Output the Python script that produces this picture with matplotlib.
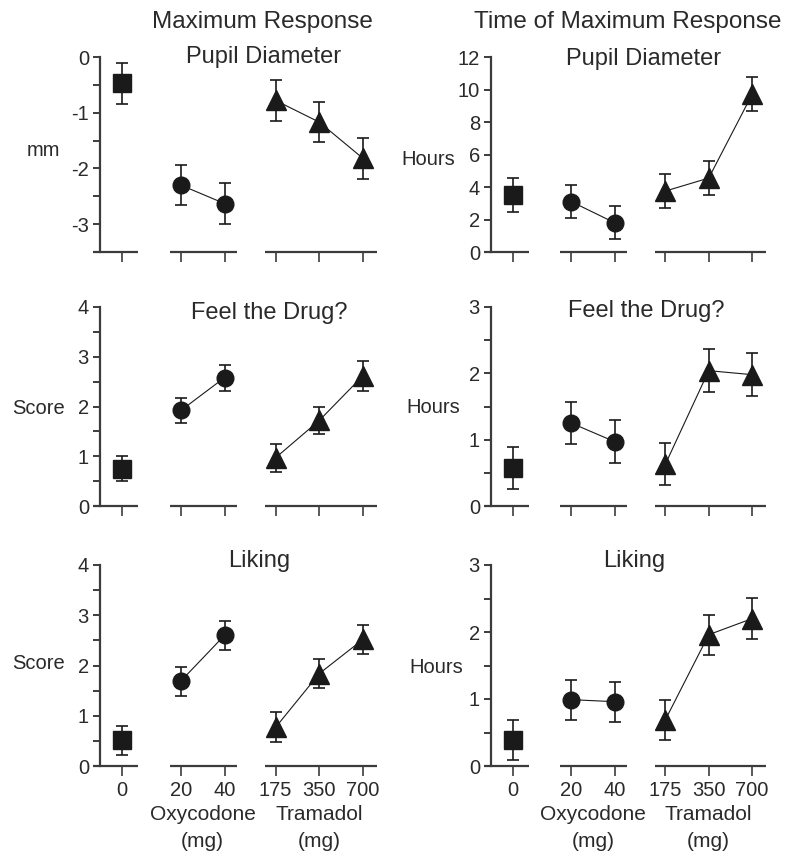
import numpy as np
import matplotlib
matplotlib.use('Agg')
import matplotlib.pyplot as plt
from matplotlib.ticker import MultipleLocator
import matplotlib.transforms as mtransforms

plt.rcParams['font.family'] = ['Liberation Sans', 'DejaVu Sans']
plt.rcParams['axes.unicode_minus'] = False

# dose groups: placebo, oxycodone, tramadol
doses = [['0'], ['20', '40'], ['175', '350', '700']]
group_names = ['', 'Oxycodone', 'Tramadol']
markers = ['s', 'o', '^']

col_titles = ['Maximum Response', 'Time of Maximum Response']
row_titles = ['Pupil Diameter', 'Feel the Drug?', 'Liking']
ylabels = [['mm', 'Hours'], ['Score', 'Hours'], ['Score', 'Hours']]

# means and SEM (placebo, oxy 20, oxy 40, tram 175, tram 350, tram 700)
pupil_max = [-0.47, -2.30, -2.63, -0.78, -1.17, -1.82]
pupil_max_se = [0.37, 0.36, 0.37, 0.36, 0.36, 0.37]
pupil_time = [3.5, 3.1, 1.8, 3.75, 4.55, 9.7]
pupil_time_se = [1.05, 1.02, 1.02, 1.07, 1.05, 1.05]
feel_max = [0.75, 1.92, 2.58, 0.97, 1.72, 2.62]
feel_max_se = [0.25, 0.26, 0.26, 0.28, 0.28, 0.30]
feel_time = [0.57, 1.25, 0.97, 0.63, 2.04, 1.98]
feel_time_se = [0.32, 0.32, 0.32, 0.32, 0.32, 0.32]
liking_max = [0.51, 1.69, 2.60, 0.77, 1.84, 2.52]
liking_max_se = [0.29, 0.29, 0.29, 0.30, 0.29, 0.29]
liking_time = [0.39, 0.99, 0.96, 0.69, 1.96, 2.20]
liking_time_se = [0.30, 0.30, 0.30, 0.30, 0.30, 0.31]

data = [[(pupil_max, pupil_max_se), (pupil_time, pupil_time_se)],
        [(feel_max, feel_max_se), (feel_time, feel_time_se)],
        [(liking_max, liking_max_se), (liking_time, liking_time_se)]]

ylims = [[(-3.5, 0), (0, 12)], [(0, 4), (0, 3)], [(0, 4), (0, 3)]]
ymajor = [[1, 2], [1, 1], [1, 1]]
yminor = [[0.5, None], [0.5, 0.5], [0.5, 0.5]]

# layout (pixels on an 800x864 canvas)
W, H = 800, 864
col_px = [(100, 277), (491, 275)]
row_px = [(57, 252), (307, 506), (565, 766)]
title_y = [[0.969, 0.959], [0.94, 0.95], [0.99, 0.99]]
title_x = [[0.59, 0.553], [0.61, 0.564], [0.575, 0.52]]
ylab_pos = [[(-0.144, 0.523), (-0.131, 0.474)],
            [(-0.126, 0.49), (-0.113, 0.497)],
            [(-0.126, 0.512), (-0.10, 0.49)]]

group_start = [0.0, 1.35, 3.52]
xs = [[s + i for i in range(len(d))] for s, d in zip(group_start, doses)]
seg_pad = [(0.65, 0.38), (0.25, 0.29), (0.24, 0.33)]

ink = '#1a1a1a'
axc = '#3c3c3c'
txt = '#2a2a2a'

fig = plt.figure(figsize=(W / 100, H / 100), dpi=100)

for r in range(3):
    for c in range(2):
        l, w = col_px[c]
        t, b = row_px[r]
        ax = fig.add_axes([l / W, 1 - b / H, w / W, (b - t) / H])
        vals, se = data[r][c]
        k = 0
        for g in range(3):
            n = len(xs[g])
            ax.errorbar(xs[g], vals[k:k + n], yerr=se[k:k + n], fmt='-',
                        marker=markers[g], ms=[13, 12, 14][g], color=ink,
                        lw=0.8, elinewidth=1.2, capsize=4.5, capthick=1.2,
                        clip_on=False, zorder=3)
            k += n
            # broken x axis segment
            ax.plot([xs[g][0] - seg_pad[g][0], xs[g][-1] + seg_pad[g][1]],
                    [ylims[r][c][0]] * 2, color=axc, lw=1.6, clip_on=False,
                    solid_capstyle='butt', zorder=2)
        ax.set_xlim(-0.5, 5.84)
        ax.set_ylim(*ylims[r][c])
        ax.yaxis.set_major_locator(MultipleLocator(ymajor[r][c]))
        if yminor[r][c]:
            ax.yaxis.set_minor_locator(MultipleLocator(yminor[r][c]))
        for s in ['top', 'right', 'bottom']:
            ax.spines[s].set_visible(False)
        ax.spines['left'].set_color(axc)
        ax.spines['left'].set_linewidth(1.6)
        ax.set_xticks([x for gx in xs for x in gx])
        if r == 2:
            ax.set_xticklabels([d for gd in doses for d in gd])
        else:
            ax.set_xticklabels([])
        ax.tick_params(axis='x', length=7.5, width=1.2, color=axc,
                       labelsize=14.5, labelcolor=txt, pad=3)
        ax.tick_params(axis='y', which='major', length=5, width=1.4, color=axc,
                       labelsize=14.5, labelcolor=txt, pad=3)
        ax.tick_params(axis='y', which='minor', length=5, width=1.4, color=axc)
        ax.patch.set_visible(False)

        ax.text(title_x[r][c], title_y[r][c], row_titles[r], transform=ax.transAxes,
                ha='center', va='baseline', fontsize=17, color=txt)
        px, py = ylab_pos[r][c]
        ax.text(px, py, ylabels[r][c], transform=ax.transAxes,
                ha='right', va='center', fontsize=14.5, color=txt)

        if r == 2:
            trans = mtransforms.blended_transform_factory(ax.transData, ax.transAxes)
            for g in (1, 2):
                xm = np.mean(xs[g])
                ax.text(xm, -(820 - b) / (b - t), group_names[g], transform=trans,
                        ha='center', va='baseline', fontsize=15, color=txt)
                ax.text(xm, -(847 - b) / (b - t), '(mg)', transform=trans,
                        ha='center', va='baseline', fontsize=15, color=txt)

fig.text(262 / W, 1 - 28 / H, col_titles[0], ha='center', va='baseline',
         fontsize=17.5, color=txt)
fig.text(628 / W, 1 - 28 / H, col_titles[1], ha='center', va='baseline',
         fontsize=17.5, color=txt)

fig.savefig('out.png', dpi=100)
